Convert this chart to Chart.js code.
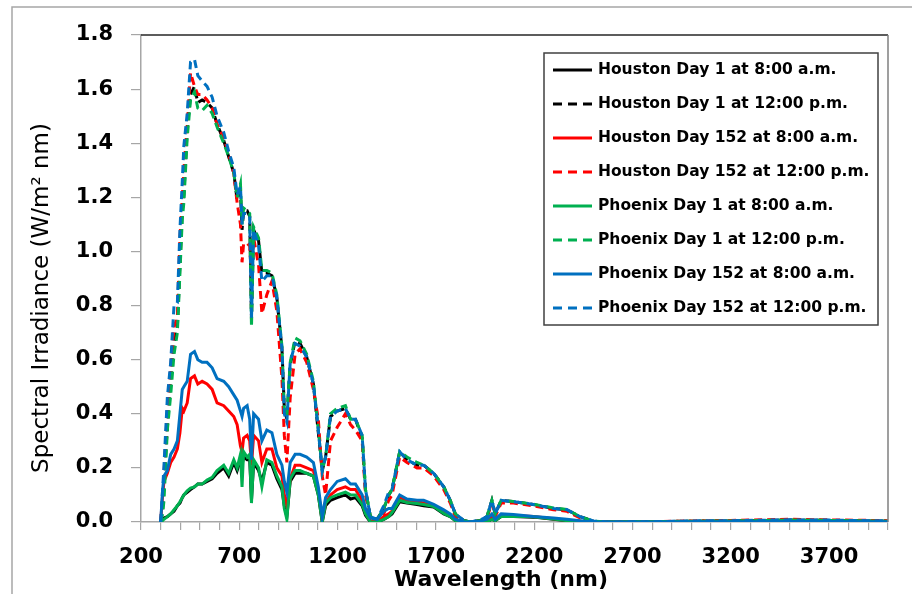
<!DOCTYPE html>
<html>
<head>
<meta charset="utf-8">
<script src="https://cdn.jsdelivr.net/npm/chart.js@4.4.1/dist/chart.umd.min.js"></script>
<style>
  body { margin: 0; background: #fff; }
  #wrap { width: 912px; height: 594px; }
</style>
</head>
<body>
<div id="wrap"><canvas id="myChart" width="912" height="594"></canvas></div>
<script>
// wavelengths (nm) shared by all series
const wavelength = [300, 310, 317, 334, 351, 368, 385, 398, 410, 418,
  435, 452, 472, 489, 511, 536, 562, 587, 621, 646,
  672, 689, 706, 714, 722, 740, 753, 762, 773, 798,
  815, 840, 866, 891, 917, 929, 942, 959, 984, 1009,
  1043, 1077, 1102, 1122, 1139, 1164, 1198, 1240, 1266, 1291,
  1325, 1342, 1367, 1401, 1435, 1460, 1477, 1516, 1553, 1604,
  1638, 1689, 1740, 1773, 1799, 1841, 1875, 1926, 1960, 1985,
  2002, 2032, 2095, 2196, 2298, 2366, 2433, 2501, 2569, 2800,
  3000, 3200, 3500, 3700, 3900, 4000];

const houstonDay1Am = [0, 0.01, 0.015, 0.02, 0.03, 0.04, 0.06, 0.07, 0.09, 0.10,
  0.11, 0.12, 0.13, 0.14, 0.14, 0.15, 0.16, 0.18, 0.20, 0.17,
  0.22, 0.19, 0.23, 0.21, 0.24, 0.23, 0.23, 0.08, 0.22, 0.19,
  0.15, 0.22, 0.21, 0.16, 0.12, 0.06, 0.02, 0.15, 0.18, 0.18,
  0.18, 0.17, 0.10, 0, 0.06, 0.08, 0.09, 0.10, 0.085, 0.09,
  0.06, 0.025, 0, 0, 0.01, 0.02, 0.03, 0.075, 0.07, 0.065,
  0.06, 0.055, 0.03, 0.02, 0.005, 0, 0, 0, 0, 0.01,
  0.005, 0.02, 0.02, 0.018, 0.01, 0.005, 0.002, 0, 0, 0,
  0, 0, 0, 0, 0, 0];

const houstonDay1Noon = [0, 0.05, 0.15, 0.35, 0.52, 0.66, 0.72, 0.95, 1.15, 1.21,
  1.45, 1.58, 1.61, 1.55, 1.56, 1.55, 1.53, 1.47, 1.41, 1.35,
  1.29, 1.19, 1.22, 1.08, 1.15, 1.15, 1.13, 0.75, 1.08, 1.04,
  0.92, 0.92, 0.91, 0.83, 0.64, 0.42, 0.38, 0.58, 0.67, 0.66,
  0.61, 0.51, 0.33, 0.19, 0.24, 0.39, 0.41, 0.42, 0.38, 0.38,
  0.31, 0.12, 0.02, 0.01, 0.05, 0.10, 0.12, 0.26, 0.23, 0.21,
  0.21, 0.18, 0.13, 0.08, 0.03, 0.006, 0, 0.006, 0.02, 0.08,
  0.03, 0.08, 0.075, 0.065, 0.05, 0.045, 0.02, 0.003, 0, 0.001,
  0.003, 0.004, 0.007, 0.006, 0.004, 0.003];

const houston152Am = [0, 0.10, 0.15, 0.18, 0.22, 0.24, 0.27, 0.33, 0.42, 0.41,
  0.44, 0.53, 0.54, 0.51, 0.52, 0.51, 0.49, 0.44, 0.43, 0.41,
  0.39, 0.36, 0.28, 0.26, 0.31, 0.32, 0.30, 0.21, 0.32, 0.30,
  0.22, 0.27, 0.27, 0.20, 0.17, 0.10, 0.06, 0.16, 0.21, 0.21,
  0.20, 0.19, 0.11, 0.01, 0.07, 0.10, 0.12, 0.13, 0.12, 0.12,
  0.08, 0.04, 0.005, 0, 0.02, 0.03, 0.04, 0.09, 0.08, 0.075,
  0.07, 0.06, 0.04, 0.025, 0.008, 0, 0, 0.002, 0.005, 0.02,
  0.01, 0.025, 0.024, 0.02, 0.012, 0.006, 0.003, 0, 0, 0,
  0.001, 0.001, 0.002, 0.002, 0.001, 0.001];

const houston152Noon = [0, 0.08, 0.18, 0.42, 0.57, 0.72, 0.76, 1.05, 1.20, 1.30,
  1.47, 1.66, 1.61, 1.58, 1.58, 1.56, 1.53, 1.47, 1.42, 1.36,
  1.29, 1.18, 1.10, 0.96, 1.03, 1.03, 1.02, 0.90, 1.05, 0.95,
  0.77, 0.84, 0.89, 0.78, 0.53, 0.32, 0.22, 0.46, 0.62, 0.64,
  0.59, 0.49, 0.38, 0.17, 0.10, 0.30, 0.35, 0.40, 0.36, 0.34,
  0.30, 0.10, 0.01, 0.005, 0.03, 0.08, 0.10, 0.24, 0.22, 0.20,
  0.20, 0.17, 0.12, 0.07, 0.02, 0.004, 0, 0.004, 0.015, 0.07,
  0.02, 0.07, 0.07, 0.06, 0.045, 0.04, 0.015, 0.002, 0, 0.001,
  0.004, 0.006, 0.01, 0.008, 0.006, 0.005];

const phoenixDay1Am = [0, 0.005, 0.01, 0.02, 0.03, 0.045, 0.06, 0.075, 0.09, 0.10,
  0.115, 0.125, 0.13, 0.14, 0.14, 0.155, 0.165, 0.19, 0.21, 0.18,
  0.23, 0.20, 0.25, 0.13, 0.26, 0.24, 0.25, 0.07, 0.23, 0.20,
  0.13, 0.23, 0.22, 0.17, 0.13, 0.05, 0.01, 0.16, 0.19, 0.19,
  0.18, 0.17, 0.10, 0, 0.07, 0.09, 0.10, 0.11, 0.10, 0.10,
  0.065, 0.03, 0, 0, 0.01, 0.02, 0.035, 0.08, 0.072, 0.068,
  0.065, 0.057, 0.032, 0.02, 0.005, 0, 0, 0, 0, 0.01,
  0.005, 0.02, 0.021, 0.019, 0.011, 0.005, 0.002, 0, 0, 0,
  0, 0, 0, 0, 0, 0];

const phoenixDay1Noon = [0, 0.03, 0.08, 0.34, 0.47, 0.62, 0.70, 0.92, 1.12, 1.18,
  1.42, 1.56, 1.59, 1.53, 1.52, 1.54, 1.51, 1.46, 1.40, 1.35,
  1.29, 1.20, 1.25, 1.10, 1.16, 1.15, 1.14, 0.72, 1.09, 1.05,
  0.93, 0.93, 0.92, 0.84, 0.65, 0.42, 0.39, 0.59, 0.68, 0.67,
  0.62, 0.52, 0.34, 0.19, 0.24, 0.40, 0.42, 0.43, 0.38, 0.38,
  0.32, 0.12, 0.02, 0.01, 0.05, 0.10, 0.12, 0.26, 0.24, 0.22,
  0.21, 0.18, 0.13, 0.08, 0.03, 0.006, 0, 0.006, 0.02, 0.08,
  0.03, 0.08, 0.076, 0.066, 0.052, 0.046, 0.02, 0.003, 0, 0.001,
  0.003, 0.004, 0.007, 0.006, 0.004, 0.003];

const phoenix152Am = [0, 0.12, 0.17, 0.19, 0.25, 0.27, 0.30, 0.40, 0.49, 0.50,
  0.52, 0.62, 0.63, 0.60, 0.59, 0.59, 0.57, 0.53, 0.52, 0.50,
  0.47, 0.45, 0.41, 0.39, 0.42, 0.43, 0.38, 0.23, 0.40, 0.38,
  0.30, 0.34, 0.33, 0.25, 0.21, 0.15, 0.11, 0.22, 0.25, 0.25,
  0.24, 0.22, 0.13, 0.02, 0.09, 0.12, 0.15, 0.16, 0.14, 0.14,
  0.10, 0.05, 0.015, 0.01, 0.04, 0.05, 0.05, 0.10, 0.085, 0.08,
  0.08, 0.065, 0.045, 0.03, 0.01, 0, 0, 0.003, 0.01, 0.03,
  0.01, 0.03, 0.028, 0.02, 0.015, 0.01, 0.005, 0, 0, 0,
  0.001, 0.001, 0.002, 0.002, 0.001, 0.001];

const phoenix152Noon = [0, 0.12, 0.21, 0.46, 0.59, 0.80, 0.81, 1.08, 1.26, 1.39,
  1.51, 1.70, 1.71, 1.65, 1.63, 1.61, 1.57, 1.50, 1.44, 1.37,
  1.31, 1.21, 1.24, 1.10, 1.14, 1.14, 1.13, 0.75, 1.08, 1.02,
  0.89, 0.91, 0.91, 0.83, 0.64, 0.40, 0.37, 0.59, 0.66, 0.65,
  0.61, 0.51, 0.34, 0.19, 0.24, 0.39, 0.41, 0.42, 0.38, 0.38,
  0.32, 0.12, 0.02, 0.01, 0.06, 0.11, 0.12, 0.26, 0.23, 0.21,
  0.21, 0.18, 0.13, 0.08, 0.03, 0.007, 0, 0.007, 0.02, 0.08,
  0.03, 0.08, 0.075, 0.065, 0.05, 0.046, 0.02, 0.004, 0, 0.001,
  0.004, 0.005, 0.008, 0.007, 0.005, 0.004];

const seriesLabels = [
  "Houston Day 1 at 8:00 a.m.",
  "Houston Day 1 at 12:00 p.m.",
  "Houston Day 152 at 8:00 a.m.",
  "Houston Day 152 at 12:00 p.m.",
  "Phoenix Day 1 at 8:00 a.m.",
  "Phoenix Day 1 at 12:00 p.m.",
  "Phoenix Day 152 at 8:00 a.m.",
  "Phoenix Day 152 at 12:00 p.m.",
];
const seriesValues = [houstonDay1Am, houstonDay1Noon, houston152Am, houston152Noon,
  phoenixDay1Am, phoenixDay1Noon, phoenix152Am, phoenix152Noon];
const seriesColors = ["#000000", "#000000", "#FF0000", "#FF0000",
  "#00B050", "#00B050", "#0070C0", "#0070C0"];

const xTickValues = [];
for (let w = 200; w <= 4000; w += 100) xTickValues.push(w);

const DASH = [8, 5];

let datasets = seriesValues.map((vals, i) => ({
  label: seriesLabels[i],
  data: wavelength.map((w, j) => ({ x: w, y: vals[j] })),
  borderColor: seriesColors[i],
  borderWidth: 3,
  borderDash: i % 2 == 1 ? DASH : [],
  pointRadius: 0,
  tension: 0,
  fill: false,
  order: 7 - i, // later series on top, like the original
}));

// frame, axis titles and the boxed legend
const decor = {
  id: "decor",
  beforeDraw(chart) {
    const ctx = chart.ctx;
    ctx.save();
    ctx.fillStyle = "#fff";
    ctx.fillRect(0, 0, chart.width, chart.height);
    ctx.strokeStyle = "#A6A6A6";
    ctx.lineWidth = 1.5;
    ctx.beginPath();
    ctx.moveTo(12, 594);
    ctx.lineTo(12, 7);
    ctx.lineTo(912, 7);
    ctx.stroke();
    ctx.restore();
  },
  afterDraw(chart) {
    const ctx = chart.ctx;
    const a = chart.chartArea;
    ctx.save();
    // top and right edge of plot area
    ctx.lineWidth = 1.5;
    ctx.strokeStyle = "#262626";
    ctx.beginPath();
    ctx.moveTo(a.left, a.top);
    ctx.lineTo(a.right, a.top);
    ctx.stroke();
    ctx.strokeStyle = "#7F7F7F";
    ctx.beginPath();
    ctx.moveTo(a.right, a.top);
    ctx.lineTo(a.right, a.bottom);
    ctx.stroke();

    // axis titles
    ctx.fillStyle = "#000";
    ctx.textAlign = "center";
    ctx.textBaseline = "middle";
    ctx.font = "bold 22px 'DejaVu Sans'";
    ctx.fillText("Wavelength (nm)", 501, 580);
    ctx.translate(42, 298);
    ctx.rotate(-Math.PI / 2);
    ctx.font = "23px 'DejaVu Sans'";
    ctx.fillText("Spectral Irradiance (W/m\u00B2 nm)", 0, 0);
    ctx.setTransform(1, 0, 0, 1, 0, 0);

    // legend
    ctx.fillStyle = "#fff";
    ctx.fillRect(544, 53, 334, 272);
    ctx.strokeStyle = "#404040";
    ctx.lineWidth = 1.5;
    ctx.strokeRect(544, 53, 334, 272);
    ctx.textAlign = "left";
    ctx.font = "bold 15.5px 'DejaVu Sans'";
    for (let i = 0; i < seriesLabels.length; i++) {
      let y = 70 + i * 34.0;
      ctx.strokeStyle = seriesColors[i];
      ctx.lineWidth = 3;
      ctx.setLineDash(i % 2 == 1 ? [9, 6] : []);
      ctx.beginPath();
      ctx.moveTo(553, y);
      ctx.lineTo(592, y);
      ctx.stroke();
      ctx.setLineDash([]);
      ctx.fillStyle = "#000";
      ctx.fillText(seriesLabels[i], 598, y);
    }
    ctx.restore();
  },
};

var ctx = document.getElementById("myChart").getContext("2d");
var chart = new Chart(ctx, {
  type: "line",
  data: { datasets: datasets },
  plugins: [decor],
  options: {
    responsive: false,
    animation: false,
    layout: { padding: { left: 0, top: 35, right: 24, bottom: 0 } },
    plugins: {
      legend: { display: false },
      tooltip: { enabled: false },
    },
    scales: {
      x: {
        type: "linear",
        min: 200,
        max: 4000,
        afterFit: (scale) => { scale.height = 72; },
        afterBuildTicks: (scale) => {
          scale.ticks = xTickValues.map((v) => ({ value: v }));
        },
        border: { color: "#A6A6A6", width: 1.5 },
        grid: { drawOnChartArea: false, tickLength: 8, color: "#A6A6A6", lineWidth: 1.2 },
        ticks: {
          autoSkip: false,
          maxRotation: 0,
          minRotation: 0,
          padding: 15,
          color: "#000",
          font: { family: "DejaVu Sans", size: 21, weight: "bold" },
          callback: (v) => ((v - 200) % 500 == 0 && v < 4000 ? String(v) : ""),
        },
      },
      y: {
        min: 0,
        max: 1.8,
        afterFit: (scale) => { scale.width = 141; },
        border: { color: "#A6A6A6", width: 1.5 },
        grid: { drawOnChartArea: false, tickLength: 10, color: "#A6A6A6", lineWidth: 1.2 },
        ticks: {
          stepSize: 0.2,
          padding: 18,
          color: "#000",
          font: { family: "DejaVu Sans", size: 21, weight: "bold" },
          callback: (v) => v.toFixed(1),
        },
      },
    },
  },
});
</script>
</body>
</html>
